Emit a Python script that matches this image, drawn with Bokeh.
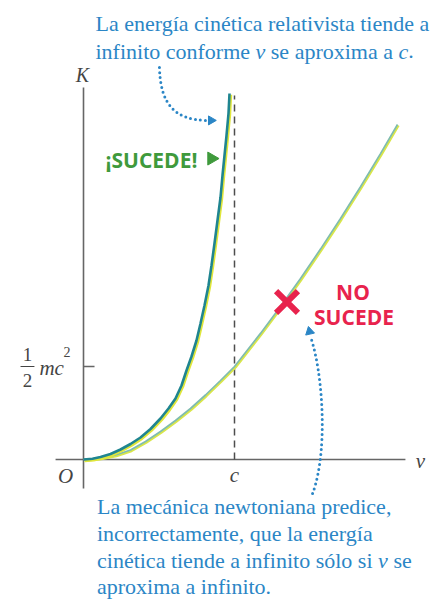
import numpy as np
from bokeh.plotting import figure
from bokeh.models import Range1d
from bokeh.core.properties import value
from bokeh.embed import file_html
from bokeh.resources import INLINE

# ---- data (v in units of c, K in units of m c^2) ----
v_rel = [0, 0.0596, 0.1126, 0.1788, 0.2450, 0.3113, 0.3775, 0.4437, 0.5099, 0.5629, 0.6093,
         0.6490, 0.6821, 0.7152, 0.7483, 0.7748, 0.8013, 0.8278, 0.8477, 0.8675, 0.8874,
         0.9073, 0.9205, 0.9338, 0.9470, 0.9603, 0.9669]
K_rel = [0, 0.0038, 0.0134, 0.0296, 0.0538, 0.0833, 0.1183, 0.1640, 0.2204, 0.2742, 0.3280,
         0.3978, 0.4785, 0.5538, 0.6398, 0.7312, 0.8280, 0.9355, 1.0430, 1.1613, 1.2849,
         1.4086, 1.5269, 1.6344, 1.7419, 1.8602, 1.9677]
v_newt = [0, 0.1126, 0.2119, 0.3113, 0.4106, 0.5099, 0.6093, 0.7086, 0.8079, 0.9073, 1.0,
          1.1722, 1.3046, 1.4371, 1.5695, 1.7020, 1.8344, 1.9669, 2.0795]
K_newt = [0, 0.0081, 0.0242, 0.0511, 0.0968, 0.1505, 0.2097, 0.2742, 0.3468, 0.4247, 0.5,
          0.6780, 0.8220, 0.9731, 1.1312, 1.2957, 1.4667, 1.6446, 1.8011]
c_speed = 1.0          # v = c
half_mc2 = 0.5         # K = 1/2 m c^2
y_ticks = [half_mc2]

# axis extents (data units)
x_axis_span = (-0.185, 2.132)
y_axis_span = (-0.156, 2.0)
c_line_top = 1.957

BLUE = "#2b86c6"
RED = "#e8234d"
GREEN = "#3f9a3c"
AX = "#666666"
SERIF = value("Liberation Serif")
SANS = value("Open Sans")
PX_PER_K = 186.0   # vertical scale of the frame, used to lift text onto its baseline

p = figure(width=444, height=599,
           x_range=Range1d(-0.54967, 2.39073), y_range=Range1d(-0.75269, 2.46774),
           output_backend="svg", toolbar_location=None,
           x_axis_location=None, y_axis_location=None, min_border=0)
p.grid.grid_line_color = None
p.outline_line_color = None
p.background_fill_color = "white"
p.border_fill_color = "white"

# axes
p.segment(x0=[0, x_axis_span[0]], y0=[y_axis_span[0], 0], x1=[0, x_axis_span[1]], y1=[y_axis_span[1], 0],
          line_color=AX, line_width=1.6)
# tick at 1/2 mc^2
p.segment(x0=[0] * len(y_ticks), y0=y_ticks, x1=[0.073] * len(y_ticks), y1=y_ticks, line_color=AX, line_width=1.6)
# dashed line at v = c
p.segment(x0=[c_speed], y0=[0], x1=[c_speed], y1=[c_line_top], line_color="#4d4d4d",
          line_width=1.5, line_dash="7 5")

# curves
vr = np.array(v_rel); kr = np.array(K_rel)
vn = np.array(v_newt); kn = np.array(K_newt)
p.line(vn + 0.006, kn - 0.005, line_color="#d9e64a", line_width=2.6)
p.line(vn, kn, line_color="#7fbcb0", line_width=1.7)
p.line(vr + 0.008, kr - 0.0065, line_color="#e0e63a", line_width=3.0)
p.line(vr, kr, line_color="#1f8590", line_width=2.6)


def txt(x, y, s, size, color="#444444", font=SERIF, style="normal", align="left"):
    y_adj = y + 0.32 * size / PX_PER_K
    p.text(x=[x], y=[y_adj], text=[s], text_font=font, text_font_size=f"{size}px",
           text_font_style=style, text_color=color, text_align=align, text_baseline="alphabetic")


# axis labels
txt(-0.0066, 2.035, "K", 20, style="italic", align="center")
txt(-0.119, -0.124, "O", 21, style="italic", align="center")
txt(c_speed, -0.118, "c", 21, style="italic", align="center")
txt(2.232, -0.043, "v", 21, style="italic", align="center")

# 1/2 mc^2 label
txt(-0.371, 0.532, "1", 19, align="center")
txt(-0.371, 0.392, "2", 19, align="center")
p.segment(x0=[-0.417], y0=[half_mc2], x1=[-0.325], y1=[half_mc2], line_color="#444444", line_width=1.2)
txt(-0.292, 0.457, "mc", 21, style="italic")
txt(-0.132, 0.556, "2", 14)

# top annotation
txt(0.0795, 2.3038, "La energía cinética relativista tiende a", 22, color=BLUE)
txt(0.0795, 2.1559, "infinito conforme", 22, color=BLUE)
txt(1.1391, 2.1559, "v", 22, color=BLUE, style="italic")
txt(1.2404, 2.1559, "se aproxima a", 22, color=BLUE)
txt(2.0861, 2.1559, "c", 22, color=BLUE, style="italic")
txt(2.1510, 2.1559, ".", 22, color=BLUE)

# bottom annotation
txt(0.0894, -0.2903, "La mecánica newtoniana predice,", 22, color=BLUE)
txt(0.0894, -0.4355, "incorrectamente, que la energía", 22, color=BLUE)
txt(0.0894, -0.5806, "cinética tiende a infinito sólo si", 22, color=BLUE)
txt(1.9510, -0.5806, "v", 22, color=BLUE, style="italic")
txt(2.0523, -0.5806, "se", 22, color=BLUE)
txt(0.0894, -0.7204, "aproxima a infinito.", 22, color=BLUE)

# dotted arrows
p.bezier(x0=[0.503, 1.517], y0=[2.108, -0.183], x1=[0.815, 1.503], y1=[1.823, 0.661],
         cx0=[0.510, 1.623], cy0=[1.903, 0.048], cx1=[0.609, 1.583], cy1=[1.828, 0.478],
         line_color=BLUE, line_width=3, line_dash="0 5", line_cap="round")
p.scatter(x=[0.845, 1.497], y=[1.823, 0.688], marker="triangle", size=9,
          angle=[-np.pi / 2, 0.22], color=BLUE)

# SUCEDE / NO SUCEDE
txt(0.450, 1.575, "¡SUCEDE!", 21, color=GREEN, font=SANS, style="bold", align="center")
p.scatter(x=[0.848], y=[1.618], marker="triangle", size=13, angle=-np.pi / 2, color=GREEN)
txt(1.7848, 0.8656, "NO", 21, color=RED, font=SANS, style="bold", align="center")
txt(1.7914, 0.7312, "SUCEDE", 21, color=RED, font=SANS, style="bold", align="center")
p.scatter(x=[1.3477], y=[0.8468], marker="x", size=31, line_color=RED, line_width=6)

open("out.html", "w").write(file_html(p, INLINE))
